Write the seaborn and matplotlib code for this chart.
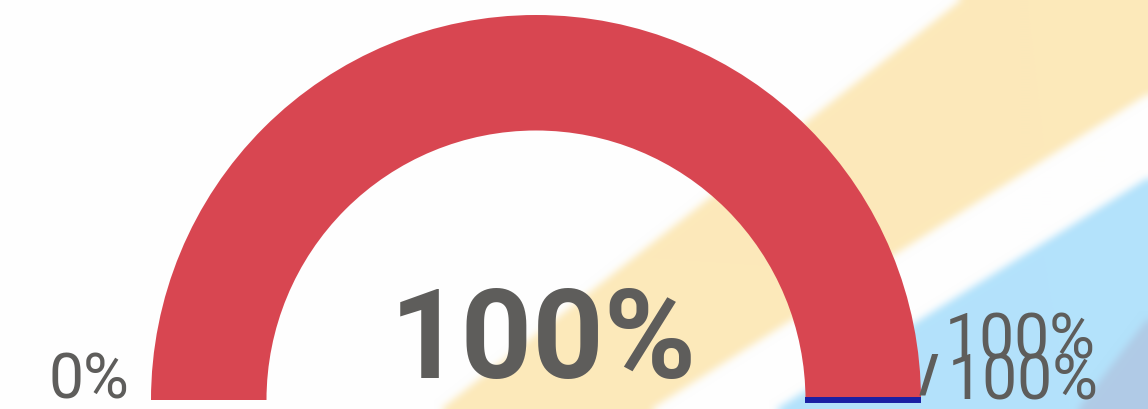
import numpy as np
import matplotlib
matplotlib.use('Agg')
import matplotlib.pyplot as plt
import seaborn as sns

# valores do medidor
valor = 100
valor_min = 0
valor_max = 100
rotulo_centro = '100%'
rotulo_min = '0%'
rotulos_max = ['100%', '100%']

vermelho = '#d84651'
azul = '#1a1fa3'
cinza = '#5e5d5b'

sns.set_theme(style='white')
plt.rcParams['font.family'] = ['Roboto', 'DejaVu Sans']

W, H = 1148, 409
fig = plt.figure(figsize=(W / 100, H / 100), dpi=100)

# ----- fundo desfocado com faixas diagonais -----
yy, xx = np.mgrid[0:H, 0:W].astype(float)
img = np.ones((H, W, 3)) * np.array([254, 254, 254]) / 255
x_sup = 440 + (409 - yy) * 520 / 409
x_inf = 650 + (409 - yy) * 498 / 316
x_azul = 775 + (409 - yy) * 373 / 232
x_ard = 1077 + (409 - yy) * 71 / 92
img[(xx > x_sup) & (xx < x_inf)] = np.array([252, 233, 186]) / 255
img[xx > x_azul] = np.array([179, 226, 251]) / 255
img[xx > x_ard] = np.array([176, 203, 230]) / 255


def borrar(a, r):
    for eixo in (0, 1):
        pad = [(0, 0)] * 3
        pad[eixo] = (r, r)
        b = np.pad(a, pad, mode='edge')
        c = np.cumsum(b, axis=eixo)
        c = np.insert(c, 0, 0, axis=eixo)
        n = a.shape[eixo]
        a = (np.take(c, range(2 * r + 1, 2 * r + 1 + n), axis=eixo)
             - np.take(c, range(0, n), axis=eixo)) / (2 * r + 1)
    return a


img = borrar(borrar(img, 4), 4)
ax_bg = fig.add_axes([0, 0, 1, 1])
ax_bg.imshow(img, aspect='auto', extent=(0, 1, 0, 1), interpolation='bilinear')
ax_bg.axis('off')

# ----- medidor -----
ax = fig.add_axes([0, 0, 1, 1])
ax.patch.set_alpha(0)
raio = 1.0
largura = 0.30
frac = (valor - valor_min) / (valor_max - valor_min)
ax.pie([frac, 1 - frac, 1], colors=[vermelho, 'none', 'none'],
       startangle=180, counterclock=False, radius=raio,
       wedgeprops=dict(width=largura, edgecolor='none'))

# ponteiro no valor atual
theta = np.pi * (1 - frac)
ax.plot([(raio - largura) * np.cos(theta), raio * np.cos(theta)],
        [(raio - largura) * np.sin(theta), raio * np.sin(theta)],
        color=azul, lw=4.3, solid_capstyle='butt', zorder=5)

escala = 385
ax.set_xlim(-536 / escala, (W - 536) / escala)
ax.set_ylim(-9 / escala, 400 / escala)
ax.set_aspect('auto')
ax.axis('off')

ax.text(0.019, 0.057, rotulo_centro, ha='center', va='baseline',
        fontsize=90, fontweight='bold', color=cinza)
ax.text(-1.055, 0.005, rotulo_min, ha='right', va='baseline',
        fontsize=45, fontweight='normal', color=cinza)
ax.text(1.062, 0.109, rotulos_max[0], ha='left', va='baseline',
        fontsize=45, fontweight='normal', color=cinza)
ax.text(1.070, 0.0, rotulos_max[1], ha='left', va='baseline',
        fontsize=45, fontweight='normal', color=cinza)
ax.text(0.996, 0.022, '/', ha='left', va='baseline',
        fontsize=38, fontweight='heavy', color=cinza)

plt.savefig('out.png', dpi=100)
